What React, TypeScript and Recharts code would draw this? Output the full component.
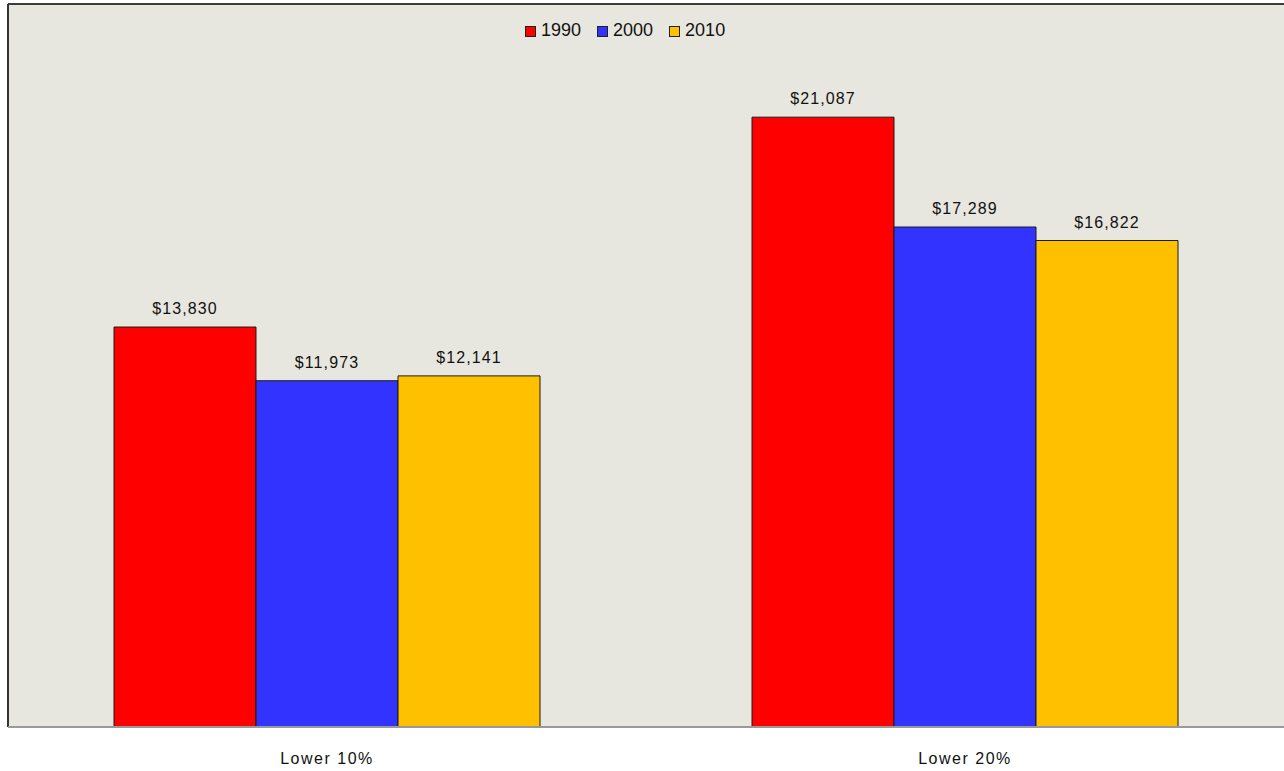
import React from "react";
import {
  BarChart,
  Bar,
  XAxis,
  YAxis,
  CartesianGrid,
  ReferenceLine,
  LabelList,
} from "recharts";

// categories and series values
const categories = ["Lower 10%", "Lower 20%"];
const years = ["1990", "2000", "2010"];
const values1990 = [13830, 21087];
const values2000 = [11973, 17289];
const values2010 = [12141, 16822];

const COLORS: Record<string, string> = {
  "1990": "#FF0000",
  "2000": "#3333FF",
  "2010": "#FFC000",
};

const FONT = '"Liberation Sans", Arial, sans-serif';

const data = categories.map((name, i) => ({
  name,
  "1990": values1990[i],
  "2000": values2000[i],
  "2010": values2010[i],
}));

const money = (v: any) => "$" + Number(v).toLocaleString("en-US");

export default function App() {
  return (
    <div style={{ position: "absolute", left: 0, top: 0, width: 1284, height: 771, fontFamily: FONT }}>
      <BarChart
        width={1284}
        height={771}
        data={data}
        margin={{ top: 4, right: 0, bottom: 0, left: 0 }}
        barGap={0}
      >
        <CartesianGrid horizontal={false} vertical={false} fill="#E8E7DF" stroke="none" />
        <YAxis
          domain={[0, 25000]}
          width={8}
          tick={false}
          tickLine={false}
          axisLine={{ stroke: "#333", strokeWidth: 2 }}
        />
        <XAxis
          dataKey="name"
          height={44}
          tickLine={false}
          tickSize={0}
          tickMargin={26}
          axisLine={{ stroke: "#999", strokeWidth: 2 }}
          tick={{ fill: "#111", fontSize: 16, fontFamily: FONT, letterSpacing: 1.5 }}
        />
        <ReferenceLine y={25000} stroke="#000" strokeWidth={1.5} />
        {years.map((y) => (
          <Bar
            key={y}
            dataKey={y}
            fill={COLORS[y]}
            stroke="#1a1a1a"
            strokeWidth={1}
            barSize={142}
            isAnimationActive={false}
          >
            <LabelList
              dataKey={y}
              position="top"
              offset={13}
              formatter={money}
              style={{ fill: "#111", fontSize: 16, fontFamily: FONT, letterSpacing: 1.1 }}
            />
          </Bar>
        ))}
      </BarChart>

      {/* legend */}
      <div
        style={{
          position: "absolute",
          left: 525,
          top: 20,
          display: "flex",
          alignItems: "center",
          fontSize: 18,
          lineHeight: "20px",
          color: "#111",
        }}
      >
        {years.map((y) => (
          <div key={y} style={{ display: "flex", alignItems: "center", marginRight: 16 }}>
            <span
              style={{
                display: "inline-block",
                width: 9,
                height: 9,
                background: COLORS[y],
                border: "1px solid #222",
                marginRight: 5,
                marginTop: 2,
              }}
            />
            <span>{y}</span>
          </div>
        ))}
      </div>
    </div>
  );
}
